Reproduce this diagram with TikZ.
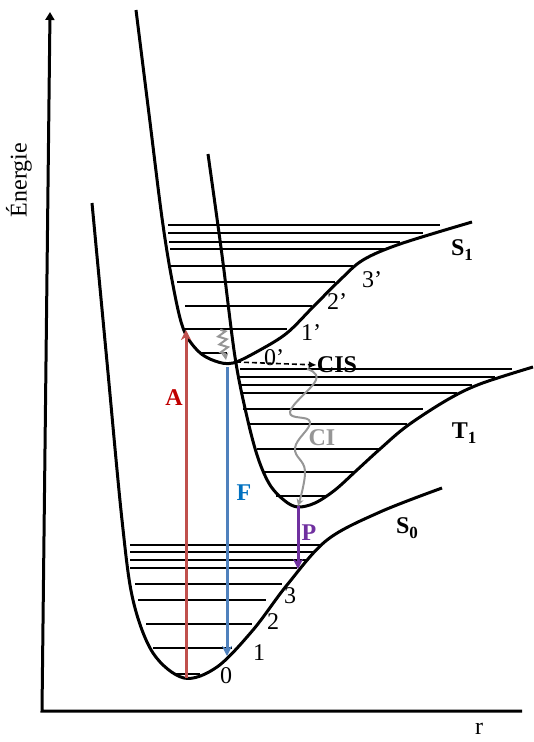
\documentclass[tikz,border=0pt]{standalone}
\usepackage{fontspec}
\setmainfont{Liberation Serif}
\usetikzlibrary{arrows.meta, decorations.pathmorphing}
\definecolor{absred}{RGB}{192, 80, 77}
\definecolor{absredtxt}{RGB}{192, 0, 0}
\definecolor{fluoblue}{RGB}{79, 129, 189}
\definecolor{fluobluetxt}{RGB}{0, 112, 192}
\definecolor{phospurple}{RGB}{112, 48, 160}
\definecolor{relaxgray}{RGB}{150, 150, 150}
\newcommand{\lvlsub}[1]{\raisebox{-5pt}{\fontsize{17}{17}\selectfont #1}}

\begin{document}
\begin{tikzpicture}[
  x=1pt, y=-1pt,
  curve/.style={line width=3pt, line join=round},
  level/.style={line width=2.2pt},
  axis/.style={line width=3pt},
  lbl/.style={font=\fontsize{24}{26}\selectfont, inner sep=0pt},
  statelbl/.style={inner sep=0pt, font=\fontsize{24}{26}\selectfont\bfseries},
  arr/.style={-{Stealth[length=10pt, width=10pt, inset=3pt]}, line width=3pt},
  relaxarr/.style={-{Stealth[length=7pt, width=7pt, inset=2pt]}, line width=2pt, relaxgray},
  iscarr/.style={-{Latex[length=8pt, width=7pt]}, line width=1.6pt, dash pattern=on 5pt off 3pt}
]
\useasboundingbox (0,0) rectangle (534,742);

% Axes
\coordinate (origin) at (42,711);
\coordinate (y_top) at (50,12);
\coordinate (x_end) at (522,711);
\draw[axis, {Triangle[length=8pt, width=9pt]}-] (y_top) -- (origin) -- (x_end);
\node[lbl, rotate=90] (energy_lbl) at (19,180) {Énergie};
\node[lbl] (r_lbl) at (479,729) {r};

% Vibrational levels
\foreach \y/\xa/\xb in {545/130/320, 552/130/313, 560/130/307, 568/130/297,
    584/135/282, 600/138/266, 624/146/252, 648/153/232, 674/173/200}
  \draw[level] (\xa,\y) -- (\xb,\y);
\foreach \y/\xa/\xb in {369/240/512, 377/240/495, 385/241/472, 393/242/457,
    409/243/423, 424/248/407, 449/257/380, 472/262/355, 496/276/328}
  \draw[level] (\xa,\y) -- (\xb,\y);
\foreach \y/\xa/\xb in {225/168/440, 233/168/423, 242/169/400, 249/170/388,
    266/170/353, 282/177/335, 306/185/312, 329/183/287, 353/200/227}
  \draw[level] (\xa,\y) -- (\xb,\y);

% Potential curves
\draw[curve] plot[smooth, tension=0.55] coordinates {(92,203) (107,362) (122,520)
  (133,600) (153,653) (184,678) (217,667) (253,630) (287,585) (327,540) (380,512) (442,488)};
\draw[curve] plot[smooth, tension=0.55] coordinates {(208,154) (222,255) (235,357)
  (247,417) (258,458) (270,485) (285,501) (298,507) (315,503) (335,490) (357,470)
  (380,449) (407,426) (447,400) (480,384) (533,367)};
\draw[curve] plot[smooth, tension=0.55] coordinates {(136,10) (149,114) (162,218)
  (172,280) (183,328) (198,351) (215,361) (233,363) (260,350) (287,333) (313,307)
  (340,280) (363,260) (400,244) (472,222)};

% State and level labels
\node[statelbl] (s1_lbl) at (462,250) {S\lvlsub{1}};
\node[statelbl] (t1_lbl) at (464,433) {T\lvlsub{1}};
\node[statelbl] (s0_lbl) at (407,528) {S\lvlsub{0}};
\foreach \n/\x/\y in {0/226/676, 1/259/653, 2/273/622, 3/290/596}
  \node[lbl] (v\n) at (\x,\y) {\n};
\foreach \n/\x/\y in {0/274/358, 1/311/333, 2/337/302, 3/372/280}
  \node[lbl] (vp\n) at (\x,\y) {\n’};

% Transitions
\coordinate (s0_min) at (186,678);
\coordinate (s1_abs) at (186,330);
\coordinate (s1_bot) at (227,367);
\coordinate (s0_fluo) at (227,656);
\coordinate (t1_min) at (298,506);
\coordinate (s0_hot) at (298,569);
\coordinate (s1_hot) at (221,329);
\coordinate (s1_v0) at (226,360);
\coordinate (isc_start) at (236,362);
\node[statelbl] (cis) at (337,365) {CIS};
\coordinate (ci_start) at (307,369);

\draw[arr, absred] (s0_min) -- (s1_abs);
\draw[arr, fluoblue] (s1_bot) -- (s0_fluo);
\draw[arr, phospurple] (t1_min) -- (s0_hot);
\draw[relaxarr, decorate, decoration={zigzag, amplitude=4pt, segment length=8pt,
  pre length=1pt, post length=6pt}] (s1_hot) -- (s1_v0);
\draw[iscarr] (isc_start) -- (cis.west);
\draw[relaxarr] plot[smooth, tension=0.7] coordinates {(ci_start) (316,380) (290,412)
  (310,422) (295,448) (305,471) (t1_min)};

\node[statelbl, text=absredtxt] (a_lbl) at (174,398) {A};
\node[statelbl, text=fluobluetxt] (f_lbl) at (244,493) {F};
\node[statelbl, text=phospurple] (p_lbl) at (309,533) {P};
\node[statelbl, text=relaxgray] (ci_lbl) at (322,438) {CI};

\end{tikzpicture}
\end{document}
